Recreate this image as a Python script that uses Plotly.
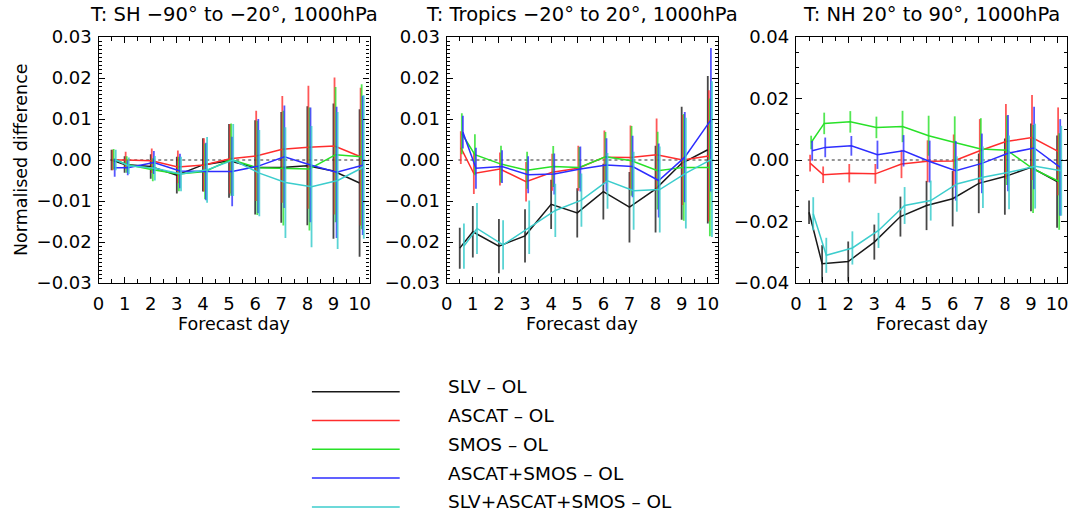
import plotly.graph_objects as go

W, H = 1072, 513

days = [0.5, 1, 2, 3, 4, 5, 6, 7, 8, 9, 10]
series_names = ["SLV – OL", "ASCAT – OL", "SMOS – OL", "ASCAT+SMOS – OL", "SLV+ASCAT+SMOS – OL"]
series_colors = ["rgb(25,25,25)", "rgb(255,45,45)", "rgb(40,225,40)", "rgb(45,45,255)", "rgb(60,205,205)"]
error_colors = ["rgba(25,25,25,0.8)", "rgba(255,45,45,0.8)", "rgba(40,225,40,0.8)",
                "rgba(45,45,255,0.8)", "rgba(60,205,205,0.85)"]
series_offsets = [0.0, 0.04, 0.08, 0.12, 0.16]

panel_titles = ["T: SH −90° to −20°, 1000hPa",
                "T: Tropics −20° to 20°, 1000hPa",
                "T: NH 20° to 90°, 1000hPa"]

# ---- SH ----
sh_slv = [0.0000, -0.0011, -0.0016, -0.0037, -0.0012, -0.0002, -0.0018, -0.0018, -0.0014, -0.0027, -0.0056]
sh_ascat = [0.0000, 0.0000, -0.0002, -0.0017, -0.0012, 0.0003, 0.0010, 0.0026, 0.0031, 0.0034, 0.0008]
sh_smos = [0.0002, -0.0011, -0.0024, -0.0034, -0.0028, 0.0001, -0.0019, -0.0020, -0.0022, 0.0013, 0.0008]
sh_ascat_smos = [-0.0019, -0.0019, -0.0006, -0.0027, -0.0028, -0.0028, -0.0015, 0.0008, -0.0012, -0.0030, -0.0013]
sh_all = [0.0000, -0.0014, -0.0020, -0.0034, -0.0024, 0.0000, -0.0032, -0.0055, -0.0065, -0.0050, -0.0017]
sh_slv_err = [0.0025, 0.0020, 0.0030, 0.0045, 0.0065, 0.0090, 0.0115, 0.0135, 0.0145, 0.0165, 0.0180]
sh_ascat_err = [0.0025, 0.0020, 0.0030, 0.0040, 0.0065, 0.0085, 0.0110, 0.0130, 0.0150, 0.0167, 0.0168]
sh_smos_err = [0.0025, 0.0020, 0.0028, 0.0042, 0.0068, 0.0088, 0.0115, 0.0140, 0.0150, 0.0165, 0.0177]
sh_ascat_smos_err = [0.0022, 0.0018, 0.0028, 0.0042, 0.0070, 0.0085, 0.0115, 0.0125, 0.0140, 0.0160, 0.0170]
sh_all_err = [0.0025, 0.0020, 0.0030, 0.0042, 0.0080, 0.0088, 0.0105, 0.0135, 0.0148, 0.0167, 0.0175]

# ---- Tropics ----
tr_slv = [-0.0215, -0.0175, -0.0210, -0.0185, -0.0108, -0.0129, -0.0077, -0.0115, -0.0071, -0.0008, 0.0025]
tr_ascat = [0.0030, -0.0033, -0.0022, -0.0053, -0.0030, -0.0020, 0.0007, 0.0006, 0.0013, 0.0000, 0.0010]
tr_smos = [0.0064, 0.0013, -0.0010, -0.0025, -0.0016, -0.0018, 0.0008, -0.0002, -0.0026, -0.0018, -0.0018]
tr_ascat_smos = [0.0068, -0.0020, -0.0016, -0.0036, -0.0034, -0.0022, -0.0012, -0.0016, -0.0050, 0.0007, 0.0098]
tr_all = [-0.0210, -0.0167, -0.0207, -0.0164, -0.0123, -0.0098, -0.0051, -0.0075, -0.0072, -0.0032, 0.0002]
tr_slv_err = [0.0050, 0.0063, 0.0066, 0.0065, 0.0060, 0.0060, 0.0068, 0.0086, 0.0106, 0.0138, 0.0180]
tr_ascat_err = [0.0040, 0.0050, 0.0040, 0.0048, 0.0045, 0.0055, 0.0065, 0.0078, 0.0088, 0.0110, 0.0160]
tr_smos_err = [0.0050, 0.0050, 0.0045, 0.0045, 0.0050, 0.0050, 0.0060, 0.0085, 0.0095, 0.0130, 0.0168]
tr_ascat_smos_err = [0.0040, 0.0050, 0.0040, 0.0045, 0.0050, 0.0055, 0.0065, 0.0075, 0.0090, 0.0110, 0.0175]
tr_all_err = [0.0055, 0.0062, 0.0060, 0.0065, 0.0065, 0.0065, 0.0068, 0.0095, 0.0105, 0.0135, 0.0190]

# ---- NH ----
nh_slv = [-0.0170, -0.0337, -0.0330, -0.0267, -0.0184, -0.0148, -0.0126, -0.0076, -0.0054, -0.0024, -0.0070]
nh_ascat = [-0.0010, -0.0048, -0.0043, -0.0045, -0.0013, -0.0004, -0.0003, 0.0030, 0.0060, 0.0073, 0.0028]
nh_smos = [0.0057, 0.0119, 0.0124, 0.0106, 0.0109, 0.0079, 0.0057, 0.0036, 0.0032, -0.0029, -0.0070]
nh_ascat_smos = [0.0030, 0.0041, 0.0046, 0.0017, 0.0030, -0.0005, -0.0035, -0.0011, 0.0022, 0.0039, -0.0024]
nh_all = [-0.0175, -0.0310, -0.0286, -0.0229, -0.0148, -0.0132, -0.0078, -0.0056, -0.0040, -0.0020, -0.0035]
nh_slv_err = [0.0038, 0.0060, 0.0065, 0.0057, 0.0065, 0.0080, 0.0090, 0.0097, 0.0124, 0.0143, 0.0150]
nh_ascat_err = [0.0027, 0.0027, 0.0030, 0.0032, 0.0046, 0.0068, 0.0086, 0.0103, 0.0122, 0.0138, 0.0143]
nh_smos_err = [0.0022, 0.0035, 0.0035, 0.0035, 0.0051, 0.0065, 0.0085, 0.0100, 0.0113, 0.0143, 0.0157]
nh_ascat_smos_err = [0.0032, 0.0032, 0.0032, 0.0046, 0.0051, 0.0068, 0.0097, 0.0097, 0.0124, 0.0134, 0.0157]
nh_all_err = [0.0054, 0.0057, 0.0054, 0.0057, 0.0060, 0.0065, 0.0090, 0.0100, 0.0120, 0.0138, 0.0146]

y_ranges = [[-0.03, 0.03], [-0.03, 0.03], [-0.04, 0.04]]
y_dticks = [0.01, 0.01, 0.02]
y_minor = [0.001, 0.001, 0.005]

panels = [
    ([sh_slv, sh_ascat, sh_smos, sh_ascat_smos, sh_all],
     [sh_slv_err, sh_ascat_err, sh_smos_err, sh_ascat_smos_err, sh_all_err]),
    ([tr_slv, tr_ascat, tr_smos, tr_ascat_smos, tr_all],
     [tr_slv_err, tr_ascat_err, tr_smos_err, tr_ascat_smos_err, tr_all_err]),
    ([nh_slv, nh_ascat, nh_smos, nh_ascat_smos, nh_all],
     [nh_slv_err, nh_ascat_err, nh_smos_err, nh_ascat_smos_err, nh_all_err]),
]

FONT = "DejaVu Sans, Liberation Sans, Arial, sans-serif"

# pixel layout of the three frames
frame_left = [98.5, 446.7, 796.0]
frame_w = 271.0
frame_top, frame_bottom = 37.0, 283.0

fig = go.Figure()

for p, (vals, errs) in enumerate(panels):
    xa = "x" if p == 0 else f"x{p+1}"
    ya = "y" if p == 0 else f"y{p+1}"
    for s in range(5):
        fig.add_trace(go.Scatter(
            x=[d + series_offsets[s] for d in days],
            y=vals[s],
            mode="lines",
            line=dict(color=series_colors[s], width=1.5),
            error_y=dict(type="data", array=errs[s], visible=True,
                         color=error_colors[s], thickness=1.8, width=0),
            xaxis=xa, yaxis=ya, showlegend=False, hoverinfo="skip",
        ))

axis_common = dict(showgrid=False, zeroline=False, showline=True, linecolor="black",
                   linewidth=1.3, mirror="ticks", ticks="inside", tickcolor="black",
                   tickwidth=1, automargin=False,
                   tickfont=dict(family=FONT, size=18, color="black"))

layout = dict(width=W, height=H,
              margin=dict(l=0, r=0, t=0, b=0, pad=0, autoexpand=False),
              paper_bgcolor="white", plot_bgcolor="white", showlegend=False,
              font=dict(family=FONT, color="black"))

shapes = []
annotations = []
for p in range(3):
    xk = "xaxis" if p == 0 else f"xaxis{p+1}"
    yk = "yaxis" if p == 0 else f"yaxis{p+1}"
    xa = "x" if p == 0 else f"x{p+1}"
    ya = "y" if p == 0 else f"y{p+1}"
    layout[xk] = dict(axis_common, domain=[frame_left[p] / W, (frame_left[p] + frame_w) / W],
                      range=[0, 10.38], tickmode="linear", tick0=0, dtick=1, ticklen=6,
                      ticklabelstandoff=4,
                      minor=dict(ticks="inside", dtick=0.5, ticklen=4, tickcolor="black"),
                      anchor=ya)
    layout[yk] = dict(axis_common, domain=[1 - frame_bottom / H, 1 - frame_top / H],
                      range=y_ranges[p], tickmode="linear", tick0=0, dtick=y_dticks[p],
                      tickformat=".2f", ticklen=6, ticklabelstandoff=2,
                      minor=dict(ticks="inside", dtick=y_minor[p], ticklen=3, tickcolor="black"),
                      anchor=xa)
    shapes.append(dict(type="line", xref=xa, yref=ya, x0=0.45, x1=10.38, y0=0, y1=0,
                       line=dict(color="rgb(150,150,150)", width=2, dash="dot"), layer="below"))
    annotations.append(dict(text=panel_titles[p], xref=f"{xa} domain", yref="paper",
                            x=0.5, y=1 - 15 / H, xanchor="center", yanchor="middle",
                            showarrow=False, font=dict(family=FONT, size=19.5, color="black")))
    annotations.append(dict(text="Forecast day", xref=f"{xa} domain", yref="paper",
                            x=0.5, y=1 - 324 / H, xanchor="center", yanchor="middle",
                            showarrow=False, font=dict(family=FONT, size=17.5, color="black")))

annotations.append(dict(text="Normalised difference", xref="paper", yref="paper",
                        x=21 / W, y=1 - 160 / H, xanchor="center", yanchor="middle",
                        textangle=-90, showarrow=False,
                        font=dict(family=FONT, size=17.5, color="black")))

# ---- legend drawn on a hidden axis (units = pixels) ----
leg_x0 = 311.7
leg_top = 370.0
layout["xaxis4"] = dict(domain=[leg_x0 / W, (leg_x0 + 400) / W], range=[0, 400],
                        visible=False, anchor="y4", fixedrange=True)
layout["yaxis4"] = dict(domain=[0, 1 - leg_top / H], range=[H - leg_top, 0],
                        visible=False, anchor="x4", fixedrange=True)
for s in range(5):
    row_y = 21.7 + 28.8 * s
    fig.add_trace(go.Scatter(x=[0, 88], y=[row_y, row_y], mode="lines",
                             line=dict(color=series_colors[s], width=1.5),
                             xaxis="x4", yaxis="y4", showlegend=False, hoverinfo="skip"))
    annotations.append(dict(text=series_names[s], xref="x4", yref="y4",
                            x=134, y=row_y - 5, xanchor="left", yanchor="middle",
                            showarrow=False, font=dict(family=FONT, size=18.5, color="black")))

layout["shapes"] = shapes
layout["annotations"] = annotations
fig.update_layout(**layout)

fig.write_html("out.html", config={"displayModeBar": False},
               post_script="document.body.style.margin='0';document.body.style.overflow='hidden';")
